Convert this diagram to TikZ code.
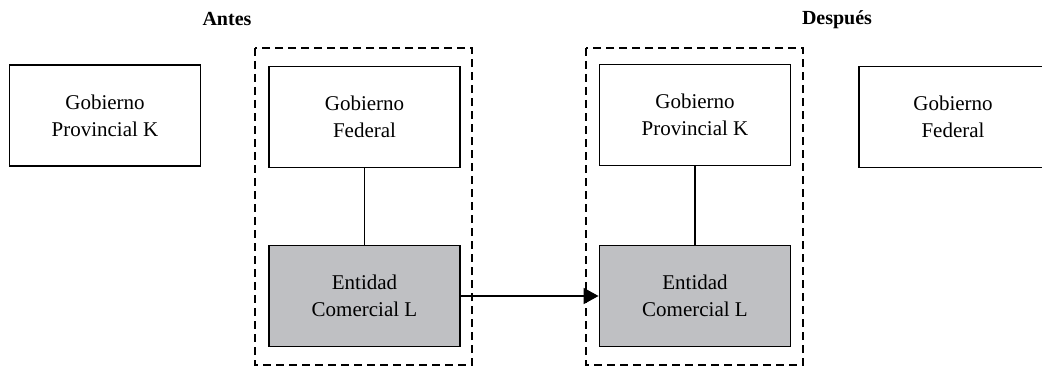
\documentclass[tikz,border=0pt]{standalone}
\usepackage{fontspec}
\setmainfont{Liberation Serif}
\usetikzlibrary{arrows.meta}
\definecolor{grisent}{RGB}{191,192,195}
\tikzset{
	caja/.style={draw, line width=1.9pt, minimum width=191pt, minimum height=101pt, inner sep=0pt, align=center, font=\fontsize{21}{27}\selectfont},
	cajagris/.style={caja, fill=grisent},
	marco/.style={line width=1.7pt, dash pattern=on 8pt off 5pt},
	titulo/.style={font=\fontsize{20}{24}\selectfont\bfseries}
}
\begin{document}
\begin{tikzpicture}[x=1pt,y=-1pt]
	\useasboundingbox (0,0) rectangle (1042,369);

	\node[titulo] (antes) at (227,19) {Antes};
	\node[titulo] (despues) at (837,20) {Después};

	\draw[marco]  (255,48) rectangle (472,365);
	\draw[marco]  (586,48) rectangle (803,365);

	\node[caja] (provA) at (105,115.5) {Gobierno\\Provincial K};

	\node[caja] (fedA) at (364.5,117) {Gobierno\\Federal};

	\node[cajagris] (entA) at (364.5,296) {Entidad\\Comercial L};

	\node[caja] (provD) at (695,115) {Gobierno\\Provincial K};

	\node[cajagris] (entD) at (695,296) {Entidad\\Comercial L};

	\node[caja, minimum width=188pt] (fedD) at (953,117) {Gobierno\\Federal};

	\draw[line width=1.7pt]  (fedA) -- (entA);
	\draw[line width=1.7pt]  (provD) -- (entD);
	\draw[line width=1.7pt, -{Triangle[length=15pt,width=16pt]}]  (entA) -- (entD);
\end{tikzpicture}
\end{document}
